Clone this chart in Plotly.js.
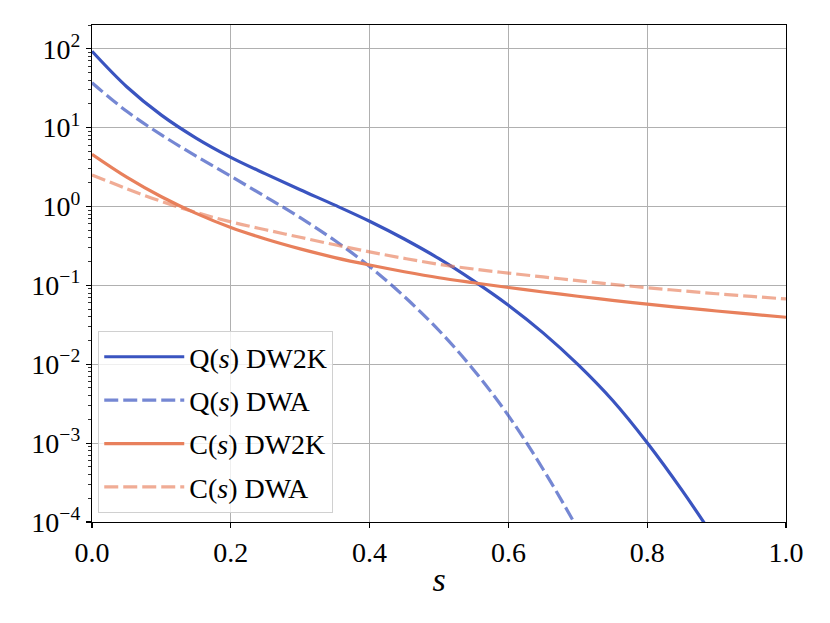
<!DOCTYPE html>
<html>
<head>
<meta charset="utf-8">
<script src="https://cdn.plot.ly/plotly-3.0.1.min.js"></script>
<style>html,body{margin:0;padding:0;background:#fff;}#chart{width:830px;height:623px;}</style>
</head>
<body>
<div id="chart"></div>
<script>
// s grid
const s = [0,0.05,0.1,0.15,0.2,0.25,0.3,0.35,0.4,0.45,0.5,0.55,0.6,0.65,0.7,0.75,0.8,0.85,0.9,0.95,1.0];
// Q(s) DW2K
const qDW2K = [92.9,33.0,14.4,7.38,4.20,2.59,1.63,1.04,0.650,0.387,0.218,0.114,0.0560,0.0250,0.00995,0.00349,0.00101,0.000253,0.000056,0.0000107,0.0000017];
// Q(s) DWA (through s=0.75)
const sQA = [0,0.05,0.1,0.15,0.2,0.25,0.3,0.35,0.4,0.45,0.5,0.55,0.6,0.65,0.7,0.75];
const qDWA = [37.0,16.1,8.09,4.35,2.42,1.33,0.721,0.370,0.173,0.0721,0.0268,0.00847,0.00223,0.000466,0.0000809,0.0000114];
// C(s) DW2K
const cDW2K = [4.60,2.36,1.33,0.818,0.541,0.387,0.290,0.225,0.181,0.149,0.125,0.108,0.0940,0.0824,0.0728,0.0647,0.0579,0.0522,0.0473,0.0431,0.0394];
// C(s) DWA
const cDWA = [2.51,1.68,1.16,0.841,0.638,0.507,0.407,0.327,0.266,0.220,0.185,0.161,0.143,0.128,0.115,0.103,0.0935,0.0853,0.0783,0.0724,0.0673];

const names = ['Q(<i>s</i>) DW2K','Q(<i>s</i>) DWA','C(<i>s</i>) DW2K','C(<i>s</i>) DWA'];
const yTickVals = [1e-4,1e-3,1e-2,1e-1,1e0,1e1,1e2];
const yTickText = ['10<sup>−4</sup>','10<sup>−3</sup>','10<sup>−2</sup>','10<sup>−1</sup>','10<sup>0</sup>','10<sup>1</sup>','10<sup>2</sup>'];
const xTickVals = [0,0.2,0.4,0.6,0.8,1.0];
const xTickText = ['0.0','0.2','0.4','0.6','0.8','1.0'];

const minorVals = [];
for (let e = -4; e <= 2; e++) for (let m = 2; m <= 9; m++) minorVals.push(m * Math.pow(10, e));

const blue = '#3a54c0', blueA = 'rgba(58,84,192,0.7)';
const orange = '#e8805c', orangeA = 'rgba(232,128,92,0.65)';
const dash = '14px,5px';

const traces = [
  {x: s, y: qDW2K, name: names[0], line: {color: blue, width: 3.2, shape: 'spline', smoothing: 1}, legendgroup: 'a'},
  {x: sQA, y: qDWA, name: names[1], line: {color: blueA, width: 3.2, dash: dash, shape: 'spline', smoothing: 1}, legendgroup: 'b'},
  {x: s, y: cDW2K, name: names[2], line: {color: orange, width: 3.2, shape: 'spline', smoothing: 1}, legendgroup: 'c'},
  {x: s, y: cDWA, name: names[3], line: {color: orangeA, width: 3.2, dash: dash, shape: 'spline', smoothing: 1}, legendgroup: 'd'}
].map(t => Object.assign({type: 'scatter', mode: 'lines'}, t));

const font = '"Liberation Serif", "Times New Roman", serif';
const layout = {
  width: 830, height: 623,
  margin: {l: 92, r: 44, t: 25, b: 101},
  paper_bgcolor: '#fff', plot_bgcolor: '#fff',
  font: {family: font, color: '#000'},
  showlegend: true,
  legend: {
    x: 0.009, y: 0.018, xanchor: 'left', yanchor: 'bottom',
    bgcolor: 'rgba(255,255,255,0.8)', bordercolor: '#d0d0d0', borderwidth: 1,
    font: {family: font, size: 28, color: '#000'},
    tracegroupgap: 4, traceorder: 'grouped', itemwidth: 80
  },
  xaxis: {
    range: [0, 1], tickmode: 'array', tickvals: xTickVals, ticktext: xTickText,
    ticks: 'outside', ticklen: 5, tickwidth: 1.2, tickcolor: '#000',
    showline: true, linecolor: '#000', linewidth: 1.2, mirror: true,
    showgrid: true, gridcolor: '#b0b0b0', gridwidth: 1, zeroline: false,
    tickfont: {family: font, size: 28, color: '#000'},
    title: {text: '<i>s</i>', font: {family: font, size: 34, color: '#000'}, standoff: 0}
  },
  yaxis: {
    type: 'log', range: [-4, Math.log10(200)],
    tickmode: 'array', tickvals: yTickVals, ticktext: yTickText,
    ticks: 'outside', ticklen: 5, tickwidth: 1.2, tickcolor: '#000',
    showline: true, linecolor: '#000', linewidth: 1.2, mirror: true,
    showgrid: true, gridcolor: '#b0b0b0', gridwidth: 1, zeroline: false,
    tickfont: {family: font, size: 28, color: '#000'},
    minor: {tickmode: 'array', tickvals: minorVals, ticks: 'outside', ticklen: 3, tickwidth: 0.8, tickcolor: '#000', showgrid: false}
  }
};

Plotly.newPlot('chart', traces, layout, {displayModeBar: false, staticPlot: true});
</script>
</body>
</html>
